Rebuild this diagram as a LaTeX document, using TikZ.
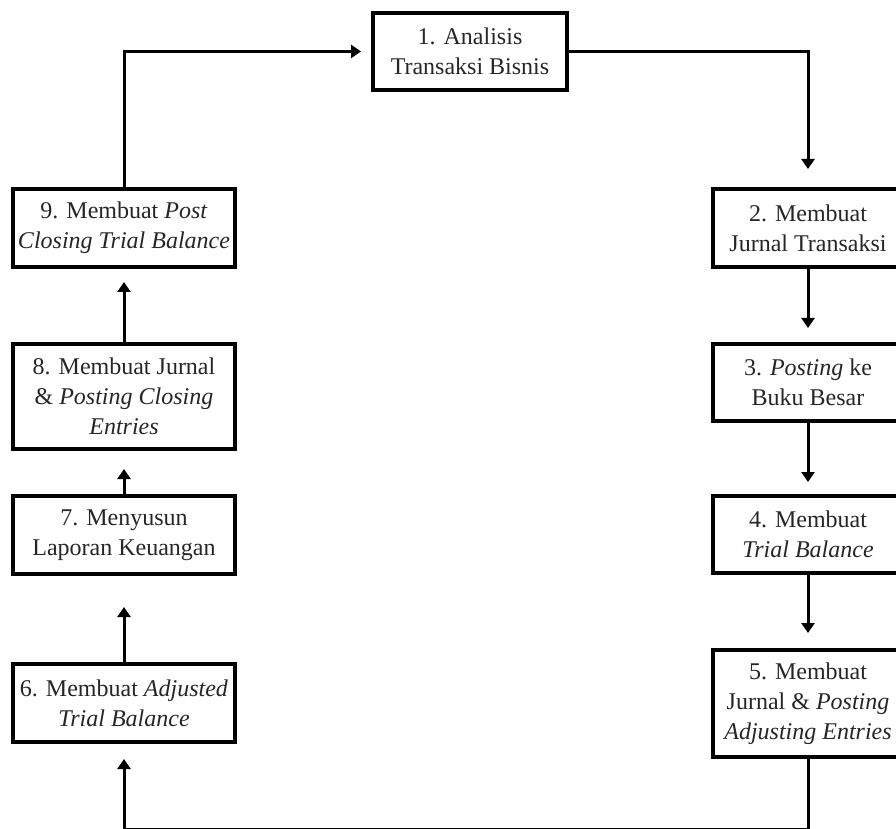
\documentclass[tikz,border=0pt]{standalone}
\usepackage{fontspec}
\setmainfont{Liberation Serif}
\usepackage{tikz}
\usetikzlibrary{positioning}
\usetikzlibrary{arrows.meta}

\begin{document}
\begin{tikzpicture}[x=1pt,y=1pt,>={Triangle[width=13pt,length=10pt]},
	box/.style={draw=black,line width=3.2pt,align=center,inner sep=0pt,outer sep=0pt,minimum height=78pt,text=black!85,font=\fontsize{24}{30}\selectfont},
	lbox/.style={box,minimum width=222pt},
	rbox/.style={box,minimum width=190pt},
	flow/.style={->,line width=3pt}]
	\useasboundingbox (0,0) rectangle (896,828);

	\node [box,minimum width=194pt,minimum height=77pt] at (470,776.5) (analisis_tr) {1. Analisis\\Transaksi Bisnis};

	\node [rbox] at (808,600) (jurnal_trans) {2. Membuat\\Jurnal Transaksi};
	\node [rbox,minimum height=77pt,below=77pt of jurnal_trans] (buku_besar) {3. \textit{Posting} ke\\Buku Besar};
	\node [rbox,minimum height=77pt,below=75pt of buku_besar] (trial_bal) {4. Membuat\\\textit{Trial Balance}};
	\node [rbox,minimum height=107pt,below=77pt of trial_bal] (adj_entries) {5. Membuat\\Jurnal \& \textit{Posting}\\\textit{Adjusting Entries}};

	\node [lbox] at (124,600) (post_closing) {9. Membuat \textit{Post}\\\textit{Closing Trial Balance}};
	\node [lbox,minimum height=105pt,below=77pt of post_closing] (closing_ent) {8. Membuat Jurnal\\\& \textit{Posting Closing}\\\textit{Entries}};
	\node [lbox,below=47pt of closing_ent] (lap_keu) {7. Menyusun\\Laporan Keuangan};
	\node [lbox,below=90pt of lap_keu] (adj_trial) {6. Membuat \textit{Adjusted}\\\textit{Trial Balance}};

	\coordinate (dasar) at (0,-1.3);

	\draw [flow,shorten >=12pt] (post_closing.north) |- (analisis_tr.west);
	\draw [flow,shorten >=20pt] (analisis_tr.east) -| (jurnal_trans.north);
	\draw [flow,shorten >=16pt] (jurnal_trans.south) -- (buku_besar.north);
	\draw [flow,shorten >=14pt] (buku_besar.south) -- (trial_bal.north);
	\draw [flow,shorten >=17pt] (trial_bal.south) -- (adj_entries.north);
	\draw [flow,shorten >=17pt] (adj_entries.south) -- (adj_entries.south |- dasar) -| (adj_trial.south);
	\draw [flow,shorten >=33pt] (adj_trial.north) -- (lap_keu.south);
	\draw [flow,shorten >=20pt] (lap_keu.north) -- (closing_ent.south);
	\draw [flow,shorten >=15pt] (closing_ent.north) -- (post_closing.south);
\end{tikzpicture}
\end{document}
